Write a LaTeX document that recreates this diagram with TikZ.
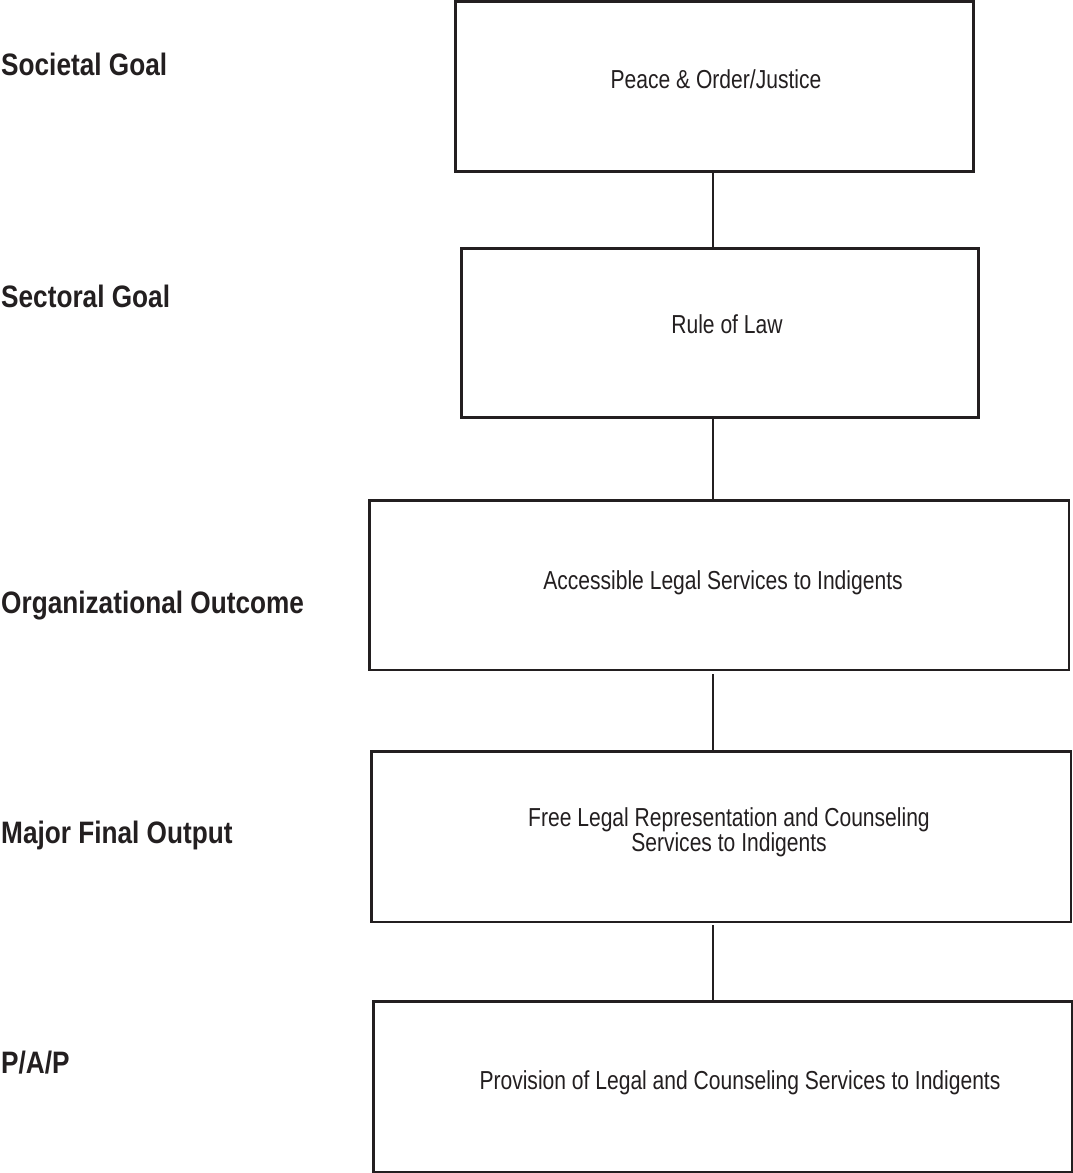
\documentclass[tikz,border=0pt]{standalone}
\usepackage{fontspec}
\newfontfamily\boxfont[FakeStretch=0.81]{Liberation Sans}
\newfontfamily\labfont[FakeStretch=0.845]{Liberation Sans}
\definecolor{ink}{HTML}{231F20}
\tikzset{
  box/.style={draw=ink, line width=2.5pt, rectangle, inner sep=0pt, fill=white},
  boxtext/.style={text=ink, font=\boxfont\fontsize{26}{28}\selectfont, inner sep=0pt, anchor=base},
  levellabel/.style={text=ink, font=\labfont\bfseries\fontsize{31}{34}\selectfont, inner sep=0pt, anchor=base west},
  link/.style={draw=ink, line width=1.9pt}
}
\begin{document}
\begin{tikzpicture}[x=1pt,y=-1pt]
\useasboundingbox[fill=white] (0,0) rectangle (1073,1173);
% boxes
\node[box, minimum width=518.4pt, minimum height=170.4pt] (b1) at (714.5,86.5) {};
\node[box, minimum width=517.4pt, minimum height=169.4pt] (b2) at (720,333) {};
\node[box, minimum width=699.5pt, minimum height=169.5pt] (b3) at (719,585) {};
\node[box, minimum width=699.5pt, minimum height=170.5pt] (b4) at (721,836.5) {};
\node[box, minimum width=698.5pt, minimum height=170.5pt] (b5) at (722.5,1086.5) {};
% box texts
\node[boxtext] (t1) at (716,88) {Peace \& Order/Justice};
\node[boxtext] (t2) at (727,333) {Rule of Law};
\node[boxtext] (t3) at (723,589) {Accessible Legal Services to Indigents};
\node[boxtext] (t4) at (729,826) {Free Legal Representation and Counseling};
\node[boxtext] (t4b) at (729,851.5) {Services to Indigents};
\node[boxtext] (t5) at (740,1089) {Provision of Legal and Counseling Services to Indigents};
% connectors
\coordinate (axis) at (713,0);
\draw[link] (axis |- b1.south) -- (axis |- b2.north);
\draw[link] (axis |- b2.south) -- (axis |- b3.north);
\draw[link, shorten <=3pt] (axis |- b3.south) -- (axis |- b4.north);
\draw[link, shorten <=2pt] (axis |- b4.south) -- (axis |- b5.north);
% level labels
\node[levellabel] (l1) at (1,75) {Societal Goal};
\node[levellabel] (l2) at (1,307) {Sectoral Goal};
\node[levellabel] (l3) at (1,613) {Organizational Outcome};
\node[levellabel] (l4) at (1,843) {Major Final Output};
\node[levellabel] (l5) at (1,1073) {P/A/P};
\end{tikzpicture}
\end{document}
